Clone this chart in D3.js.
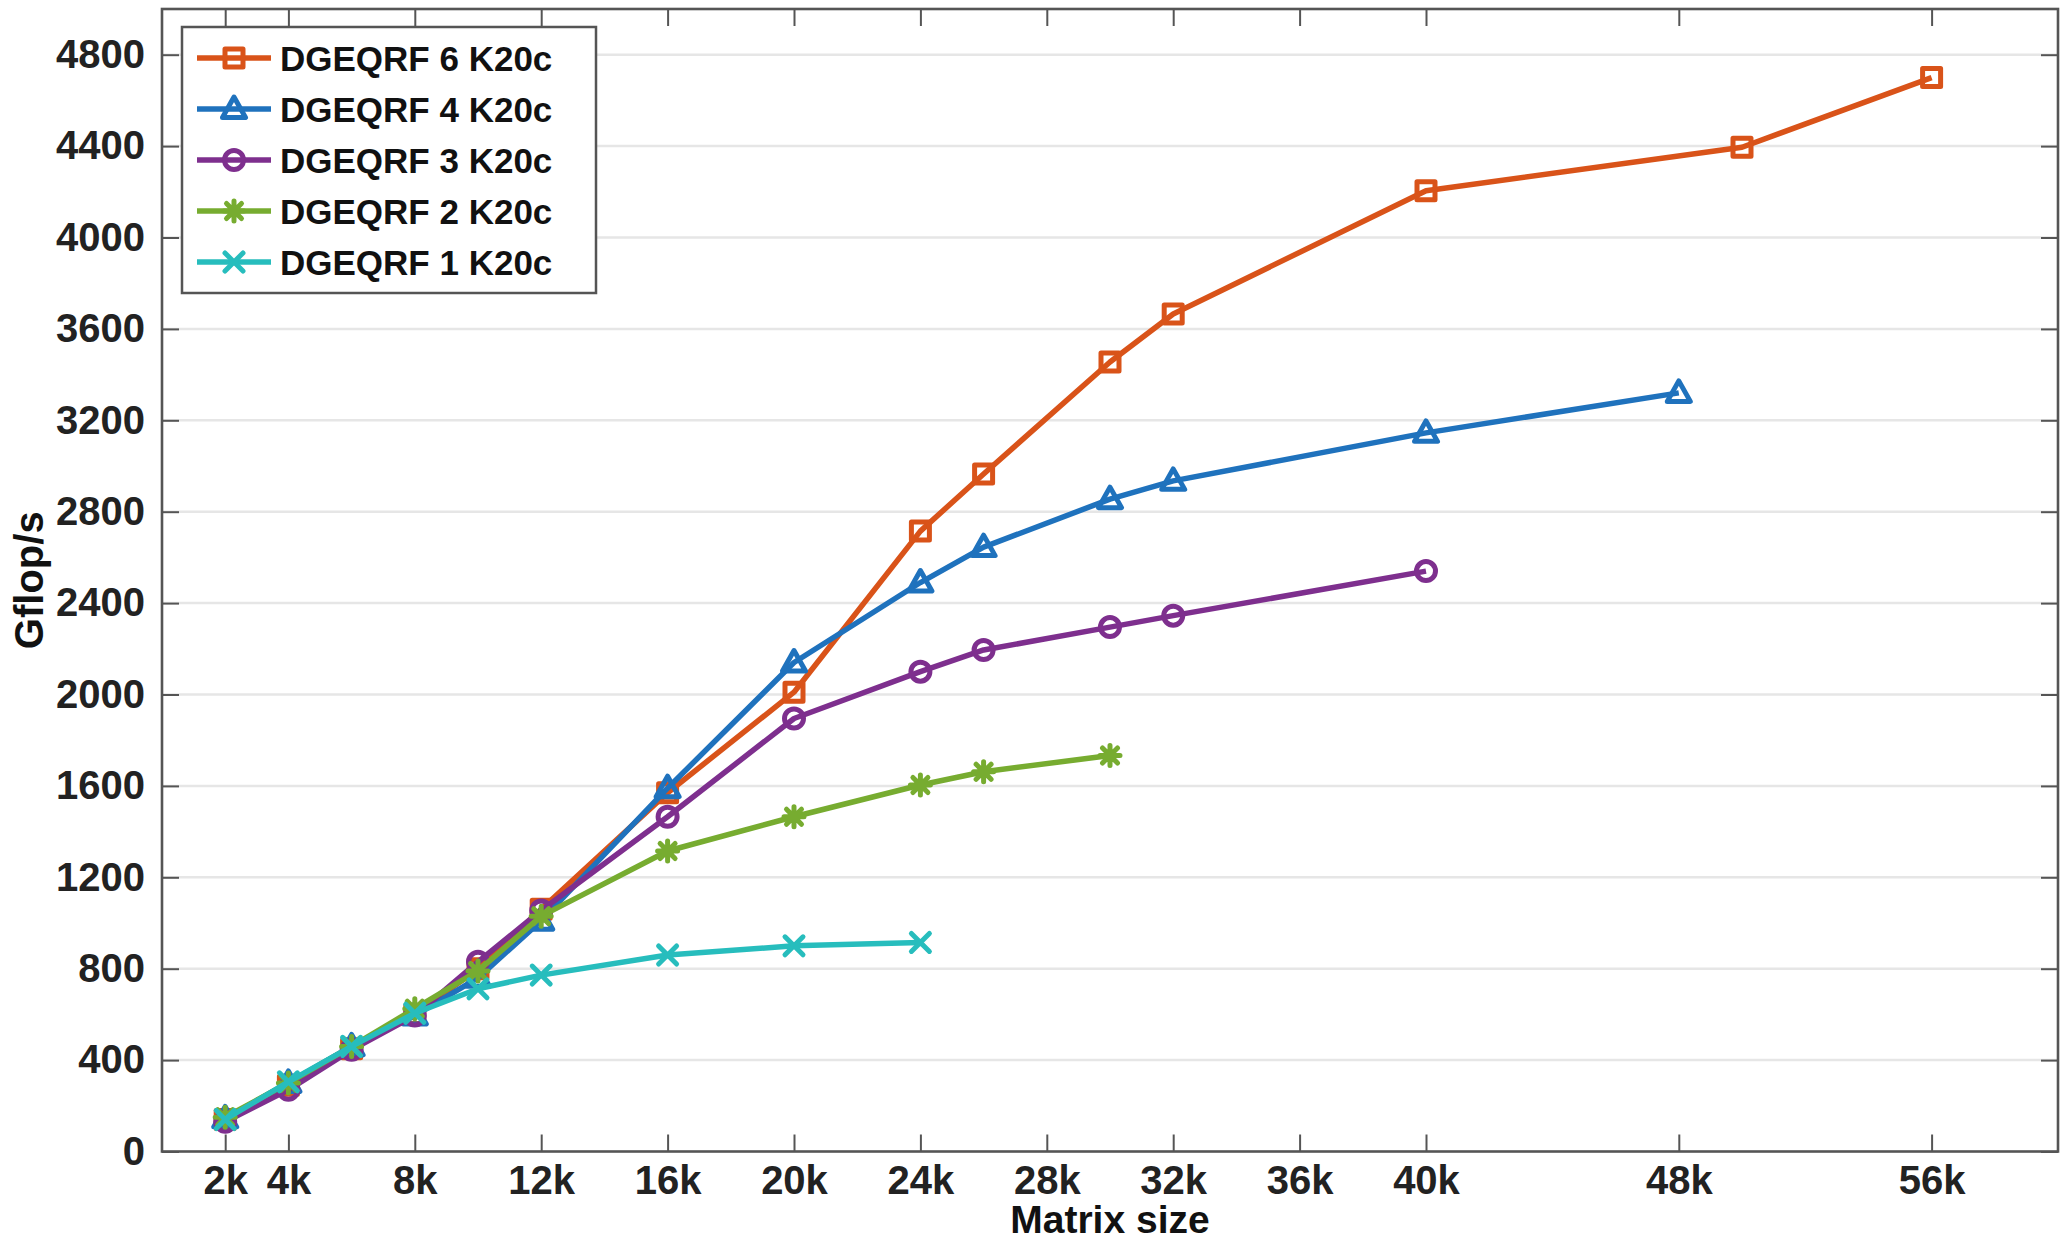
<!DOCTYPE html>
<html>
<head>
<meta charset="utf-8">
<script src="https://cdn.jsdelivr.net/npm/d3@7"></script>
<style>
  html, body { margin: 0; padding: 0; background: #fff; }
  svg { display: block; }
</style>
</head>
<body>
<svg id="chart" width="2061" height="1241"></svg>
<script>
// ---------- data (matrix size in k, performance in Gflop/s) ----------
const seriesNames = ["DGEQRF 6 K20c", "DGEQRF 4 K20c", "DGEQRF 3 K20c", "DGEQRF 2 K20c", "DGEQRF 1 K20c"];
const seriesColors = ["#D95319", "#1F72BD", "#7E2F8E", "#77AC30", "#27BDBD"];
const seriesMarkers = ["square", "triangle", "circle", "asterisk", "cross"];

const sizes6 = [2, 4, 6, 8, 10, 12, 16, 20, 24, 26, 30, 32, 40, 50, 56];
const gflops6 = [140, 290, 450, 600, 800, 1060, 1570, 2010, 2715, 2965, 3455, 3665, 4205, 4395, 4700];

const sizes4 = [2, 4, 6, 8, 10, 12, 16, 20, 24, 26, 30, 32, 40, 48];
const gflops4 = [145, 300, 460, 595, 760, 1010, 1590, 2140, 2490, 2645, 2855, 2935, 3145, 3320];

const sizes3 = [2, 4, 6, 8, 10, 12, 16, 20, 24, 26, 30, 32, 40];
const gflops3 = [130, 270, 445, 595, 830, 1055, 1465, 1895, 2100, 2195, 2295, 2345, 2540];

const sizes2 = [2, 4, 6, 8, 10, 12, 16, 20, 24, 26, 30];
const gflops2 = [150, 300, 460, 625, 790, 1030, 1315, 1465, 1604, 1662, 1733];

const sizes1 = [2, 4, 6, 8, 10, 12, 16, 20, 24];
const gflops1 = [140, 305, 460, 605, 712, 772, 860, 900, 915];

const xTicks = [2, 4, 8, 12, 16, 20, 24, 28, 32, 36, 40, 48, 56];
const yTicks = [0, 400, 800, 1200, 1600, 2000, 2400, 2800, 3200, 3600, 4000, 4400, 4800];
const xTitle = "Matrix size";
const yTitle = "Gflop/s";

const allSizes = [sizes6, sizes4, sizes3, sizes2, sizes1];
const allGflops = [gflops6, gflops4, gflops3, gflops2, gflops1];

// ---------- layout ----------
const L = 162, R = 2058, T = 9, B = 1151.5;
const svg = d3.select("#chart");
const x = d3.scaleLinear().domain([0, 60]).range([L, R]);
const y = d3.scaleLinear().domain([0, 5000]).range([B, T]);

const axisColor = "#555";
const tickLen = 17;
const font = "'Liberation Sans', Arial, sans-serif";
const lineW = 5.5;
const markW = 5;

// gridlines
svg.append("g").selectAll("line").data(yTicks.filter(d => d > 0)).join("line")
  .attr("x1", L).attr("x2", R)
  .attr("y1", d => y(d)).attr("y2", d => y(d))
  .attr("stroke", "#e6e6e6").attr("stroke-width", 2.5);

// bottom axis with labels (inward ticks)
const gx = svg.append("g").attr("transform", `translate(0,${B})`)
  .call(d3.axisBottom(x).tickValues(xTicks).tickFormat(d => d + "k")
    .tickSizeInner(-tickLen).tickSizeOuter(0).tickPadding(14));
gx.select(".domain").remove();
gx.selectAll(".tick line").attr("stroke", axisColor).attr("stroke-width", 2);
gx.selectAll(".tick text").attr("font-family", font).attr("font-weight", "bold")
  .attr("font-size", 40).attr("fill", "#222");

// top mirror ticks
const gxt = svg.append("g").attr("transform", `translate(0,${T})`)
  .call(d3.axisTop(x).tickValues(xTicks).tickFormat("").tickSizeInner(-tickLen).tickSizeOuter(0));
gxt.select(".domain").remove();
gxt.selectAll(".tick line").attr("stroke", axisColor).attr("stroke-width", 2);

// left axis with labels
const gy = svg.append("g").attr("transform", `translate(${L},0)`)
  .call(d3.axisLeft(y).tickValues(yTicks).tickFormat(d3.format("d"))
    .tickSizeInner(-tickLen).tickSizeOuter(0).tickPadding(17));
gy.select(".domain").remove();
gy.selectAll(".tick line").attr("stroke", axisColor).attr("stroke-width", 2);
gy.selectAll(".tick text").attr("font-family", font).attr("font-weight", "bold")
  .attr("font-size", 40).attr("fill", "#222");

// right mirror ticks
const gyr = svg.append("g").attr("transform", `translate(${R},0)`)
  .call(d3.axisRight(y).tickValues(yTicks).tickFormat("").tickSizeInner(-tickLen).tickSizeOuter(0));
gyr.select(".domain").remove();
gyr.selectAll(".tick line").attr("stroke", axisColor).attr("stroke-width", 2);

// box
svg.append("rect").attr("x", L).attr("y", T).attr("width", R - L).attr("height", B - T)
  .attr("fill", "none").attr("stroke", axisColor).attr("stroke-width", 2.6);

// axis titles
svg.append("text").attr("x", (L + R) / 2).attr("y", 1233).attr("text-anchor", "middle")
  .attr("font-family", font).attr("font-weight", "bold").attr("font-size", 39).attr("fill", "#111")
  .text(xTitle);
svg.append("text").attr("transform", `translate(43,${(T + B) / 2}) rotate(-90)`).attr("text-anchor", "middle")
  .attr("font-family", font).attr("font-weight", "bold").attr("font-size", 40).attr("fill", "#111")
  .text(yTitle);

// ---------- markers ----------
function drawMarker(g, type, color) {
  const common = s => s.attr("fill", "none").attr("stroke", color).attr("stroke-width", markW)
    .attr("stroke-linejoin", "round").attr("stroke-linecap", "round");
  if (type === "square") {
    common(g.append("rect").attr("x", -9).attr("y", -9).attr("width", 18).attr("height", 18));
  } else if (type === "triangle") {
    common(g.append("path").attr("d", "M0,-12 L11.5,8.5 L-11.5,8.5 Z"));
  } else if (type === "circle") {
    common(g.append("circle").attr("r", 9.5));
  } else if (type === "asterisk") {
    const a = 10, b = 7.5;
    common(g.append("path").attr("d",
      `M${-a},0 L${a},0 M0,${-a} L0,${a} M${-b},${-b} L${b},${b} M${-b},${b} L${b},${-b}`));
  } else if (type === "cross") {
    const b = 9;
    common(g.append("path").attr("d", `M${-b},${-b} L${b},${b} M${-b},${b} L${b},${-b}`));
  }
}

const line = d3.line().x(d => x(d[0])).y(d => y(d[1]));

seriesNames.forEach((name, i) => {
  const pts = allSizes[i].map((s, j) => [s, allGflops[i][j]]);
  const g = svg.append("g");
  g.append("path").datum(pts).attr("d", line).attr("fill", "none")
    .attr("stroke", seriesColors[i]).attr("stroke-width", lineW).attr("stroke-linejoin", "round");
  pts.forEach(p => {
    const mg = g.append("g").attr("transform", `translate(${x(p[0])},${y(p[1])})`);
    drawMarker(mg, seriesMarkers[i], seriesColors[i]);
  });
});

// ---------- legend ----------
const lg = svg.append("g");
lg.append("rect").attr("x", 182).attr("y", 27).attr("width", 414).attr("height", 266)
  .attr("fill", "#fff").attr("stroke", axisColor).attr("stroke-width", 2.5);
seriesNames.forEach((name, i) => {
  const cy = 58 + i * 51;
  lg.append("line").attr("x1", 197).attr("x2", 271).attr("y1", cy).attr("y2", cy)
    .attr("stroke", seriesColors[i]).attr("stroke-width", lineW);
  const mg = lg.append("g").attr("transform", `translate(234,${cy})`);
  drawMarker(mg, seriesMarkers[i], seriesColors[i]);
  lg.append("text").attr("x", 280).attr("y", cy + 12.5)
    .attr("font-family", font).attr("font-weight", "bold").attr("font-size", 35).attr("fill", "#111")
    .text(name);
});
</script>
</body>
</html>
